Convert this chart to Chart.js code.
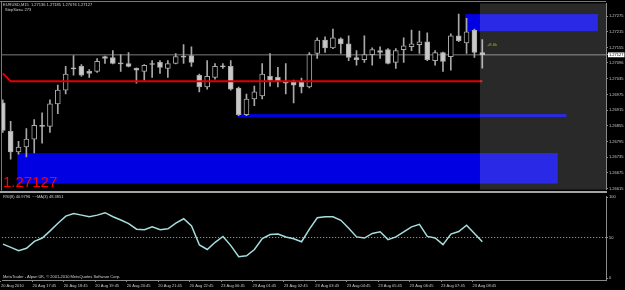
<!DOCTYPE html>
<html>
<head>
<meta charset="utf-8">
<script src="https://cdn.jsdelivr.net/npm/chart.js@4.4.0/dist/chart.umd.min.js"></script>
<style>
  html, body { margin: 0; padding: 0; background: #000; }
  #wrap { position: relative; width: 625px; height: 290px; overflow: hidden; background: #000; }
  canvas { position: absolute; left: 0; }
  #price { top: 0; }
  #rsi { top: 193px; }
</style>
</head>
<body>
<div id="wrap">
  <canvas id="price" width="625" height="193"></canvas>
  <canvas id="rsi" width="625" height="97"></canvas>
</div>
<script>
// EURUSD M15 candles
const opens  = [1.26943,1.26834,1.26755,1.26774,1.26804,1.26857,1.26853,1.26939,1.26992,1.27077,
                1.27083,1.27064,1.27064,1.27120,1.27117,1.27096,1.27094,1.27075,1.27064,1.27094,
                1.27098,1.27075,1.27094,1.27122,1.27124,1.27049,1.27004,1.27041,1.27085,1.27083,
                1.27000,1.26898,1.26958,1.26970,1.27045,1.27041,1.27026,1.27022,1.27022,1.27004,
                1.27132,1.27184,1.27154,1.27188,1.27169,1.27117,1.27109,1.27128,1.27143,1.27147,
                1.27098,1.27147,1.27158,1.27166,1.27177,1.27105,1.27136,1.27120,1.27200,1.27173,
                1.27222,1.27136];
const highs  = [1.26955,1.26872,1.26796,1.26845,1.26879,1.26905,1.26955,1.27011,1.27083,1.27124,
                1.27090,1.27071,1.27113,1.27122,1.27143,1.27128,1.27136,1.27077,1.27090,1.27105,
                1.27105,1.27105,1.27132,1.27166,1.27158,1.27053,1.27105,1.27094,1.27094,1.27105,
                1.27004,1.26977,1.27007,1.27094,1.27132,1.27079,1.27094,1.27030,1.27038,1.27136,
                1.27192,1.27196,1.27226,1.27192,1.27200,1.27143,1.27200,1.27154,1.27158,1.27151,
                1.27151,1.27192,1.27222,1.27218,1.27211,1.27143,1.27138,1.27207,1.27283,1.27267,
                1.27226,1.27185];
const lows   = [1.26830,1.26728,1.26747,1.26736,1.26751,1.26789,1.26830,1.26902,1.26977,1.27049,
                1.27045,1.27041,1.27060,1.27094,1.27092,1.27064,1.27081,1.27019,1.27030,1.27041,
                1.27056,1.27041,1.27092,1.27094,1.27083,1.26985,1.26996,1.27034,1.27075,1.26992,
                1.26894,1.26894,1.26932,1.26958,1.27007,1.27004,1.26977,1.26943,1.26981,1.27000,
                1.27113,1.27136,1.27151,1.27132,1.27105,1.27087,1.27098,1.27087,1.27113,1.27092,
                1.27075,1.27098,1.27143,1.27132,1.27105,1.27087,1.27064,1.27068,1.27177,1.27132,
                1.27117,1.27076];
const closes = [1.26838,1.26755,1.26774,1.26804,1.26857,1.26853,1.26939,1.26992,1.27053,1.27073,
                1.27049,1.27056,1.27102,1.27113,1.27094,1.27092,1.27083,1.27068,1.27087,1.27090,
                1.27079,1.27094,1.27120,1.27118,1.27098,1.27004,1.27045,1.27083,1.27081,1.26996,
                1.26898,1.26958,1.26985,1.27053,1.27030,1.27026,1.27019,1.27011,1.27004,1.27128,
                1.27184,1.27154,1.27192,1.27169,1.27117,1.27109,1.27128,1.27147,1.27136,1.27094,
                1.27143,1.27162,1.27169,1.27177,1.27109,1.27136,1.27102,1.27200,1.27181,1.27215,
                1.27136,1.27127];

// StepMA line (red)
const stepLine = [1.27056].concat(new Array(61).fill(1.27026));

// RSI(8) per bar
const rsiValues = [42,38,34,37,45.5,49.6,58.5,68,76.8,80,
                   78,76,78,81,76,72,67.5,60.6,59.8,63.4,
                   59.8,61,68,73.5,64.6,41,35.4,44.3,51.6,40.2,
                   26.4,27.6,35.4,49,54,54.5,51,48.8,45,60.6,
                   74.8,76,76,71.6,61.8,51,49.6,55.3,57.3,47.6,
                   51,57.3,63.4,66.6,51.6,49.6,41.5,54.5,57.7,65.5,
                   55.3,45];

// blue supply/demand zones (bar index / price)
const zoneStart  = [58.8, 29.9, 1.85];
const zoneEnd    = [75.7, 71.7, 70.6];
const zoneTop    = [1.27283, 1.26900, 1.26751];
const zoneBottom = [1.27218, 1.26889, 1.26634];
const shadeStart = 60.7;

const priceTicks = ['1.27275','1.27215','1.27155','1.27096','1.27035','1.26975',
                    '1.26915','1.26855','1.26795','1.26735','1.26675','1.26615'];
const rsiTicks = [0, 50, 100];
const timeTickBars = [0,4,8,12,16,20,24,28,32,36,40,44,48,52,56,60];
const timeLabels = ['20 Aug 2010','20 Aug 17:45','20 Aug 18:45','20 Aug 19:45','20 Aug 20:45',
                    '20 Aug 21:45','20 Aug 22:45','23 Aug 00:45','23 Aug 01:45','23 Aug 02:45',
                    '23 Aug 03:45','23 Aug 04:45','23 Aug 05:45','23 Aug 06:45','23 Aug 07:45',
                    '23 Aug 08:45'];

const bars = opens.map((_, i) => i);
const last = bars.length - 1;
const bidPrice = closes[last];
const xMin = -0.1, xMax = 76.74;

Chart.defaults.font.family = 'Liberation Sans';
Chart.defaults.font.size = 4;
Chart.defaults.color = '#c8c8c8';
Chart.defaults.animation = false;
Chart.defaults.plugins.legend.display = false;
Chart.defaults.plugins.tooltip.enabled = false;

const xScaleOpts = {
    type: 'linear', min: xMin, max: xMax, offset: false, bounds: 'data'
};

const pricePlugin = {
    id: 'pricePlugin',
    beforeDatasetsDraw(chart) {
        const {ctx, chartArea: a, scales: {x, y}} = chart;
        ctx.save();
        ctx.beginPath();
        ctx.rect(a.left, a.top, a.width, a.height);
        ctx.clip();
        ctx.fillStyle = '#0000e2';
        zoneStart.forEach((s, k) => {
            const x1 = x.getPixelForValue(s), x2 = x.getPixelForValue(zoneEnd[k]);
            const y1 = y.getPixelForValue(zoneTop[k]), y2 = y.getPixelForValue(zoneBottom[k]);
            ctx.fillRect(x1, y1, x2 - x1, y2 - y1);
        });
        ctx.restore();
    },
    afterDatasetsDraw(chart) {
        const {ctx, chartArea: a, scales: {x}} = chart;
        const xs = x.getPixelForValue(shadeStart);
        ctx.save();
        ctx.fillStyle = 'rgba(255,255,255,0.16)';
        ctx.fillRect(xs, a.top, a.right - xs, a.bottom - a.top);
        ctx.restore();
    },
    afterDraw(chart) {
        const {ctx, chartArea: a} = chart;
        ctx.save();
        // frame
        ctx.fillStyle = '#7a7a7a';
        ctx.fillRect(0, 1, a.right, 1);
        ctx.fillRect(1, 1, 1, a.bottom);
        ctx.fillStyle = '#a4a4a4';
        ctx.fillRect(0, 191, a.right + 1, 2);
        // texts
        ctx.font = '4px "Liberation Sans"';
        ctx.textBaseline = 'middle';
        ctx.fillStyle = '#d0d0d0';
        ctx.fillText('EURUSD,M15  ' + [opens[last], highs[last], lows[last], closes[last]].map(v => v.toFixed(5)).join(' '), 3, 5);
        ctx.fillText('StepSize= 273', 5, 10);
        ctx.fillStyle = '#b8b800';
        ctx.fillText('+8.6k', 487, 45);
        ctx.fillStyle = '#ff0000';
        ctx.textBaseline = 'alphabetic';
        ctx.font = '15px "Liberation Sans"';
        ctx.fillText(closes[last].toFixed(5), 3, 187);
        ctx.restore();
    }
};

new Chart(document.getElementById('price'), {
    type: 'bar',
    data: {
        datasets: [
            {
                type: 'line',
                data: [{x: xMin, y: bidPrice}, {x: xMax, y: bidPrice}],
                borderColor: '#7c7c7c', borderWidth: 1, pointRadius: 0, order: 3
            },
            {
                type: 'bar',
                data: bars.map(i => ({x: i, y: [lows[i], highs[i]]})),
                backgroundColor: '#a8a8a8', barThickness: 1, grouped: false, order: 2
            },
            {
                type: 'bar',
                data: bars.map(i => ({x: i, y: [opens[i], closes[i]]})),
                backgroundColor: bars.map(i => closes[i] < opens[i] ? '#c8c8c8' : '#000000'),
                borderColor: '#a8a8a8', borderWidth: 1, borderSkipped: false,
                barThickness: 5, grouped: false, order: 1
            },
            {
                type: 'line',
                data: stepLine.map((v, i) => ({x: i, y: v})),
                borderColor: '#e00000', borderWidth: 2, pointRadius: 0, order: 0
            }
        ]
    },
    options: {
        responsive: false,
        layout: { padding: { left: 2, top: 2, right: 0, bottom: 2 } },
        scales: {
            x: Object.assign({ display: false }, xScaleOpts),
            y: {
                type: 'linear', position: 'right', min: 1.26611, max: 1.27324,
                beginAtZero: false, bounds: 'data',
                afterFit: s => { s.width = 19; },
                afterBuildTicks: s => {
                    s.ticks = priceTicks.map(t => ({value: parseFloat(t)})).concat([{value: bidPrice}]);
                },
                border: { display: true, color: '#8a8a8a' },
                grid: { drawOnChartArea: false, tickLength: 2, color: '#8a8a8a' },
                ticks: {
                    autoSkip: false, padding: 1,
                    callback: v => v.toFixed(5),
                    color: c => c.tick && c.tick.value === bidPrice ? '#000' : '#c8c8c8',
                    showLabelBackdrop: c => !!(c.tick && c.tick.value === bidPrice),
                    backdropColor: '#ffffff',
                    backdropPadding: { x: 1, y: 0 }
                }
            }
        }
    },
    plugins: [pricePlugin]
});

const rsiPlugin = {
    id: 'rsiPlugin',
    afterDraw(chart) {
        const {ctx} = chart;
        ctx.save();
        ctx.font = '4px "Liberation Sans"';
        ctx.textBaseline = 'middle';
        ctx.fillStyle = '#d0d0d0';
        ctx.fillText('RSI(8) 40.9796  ~~MA(3) 48.3851', 3, 4);
        ctx.fillText('MetaTrader - Alpari UK, \u00a9 2001-2010 MetaQuotes Software Corp.', 3, 84);
        ctx.restore();
    }
};

new Chart(document.getElementById('rsi'), {
    type: 'line',
    data: {
        datasets: [{
            data: rsiValues.map((v, i) => ({x: i, y: v})),
            borderColor: '#a6dede', borderWidth: 1.5, pointRadius: 0, tension: 0
        }]
    },
    options: {
        responsive: false,
        layout: { padding: { left: 2, top: 2, right: 0, bottom: 0 } },
        scales: {
            x: Object.assign({
                position: 'bottom',
                afterFit: s => { s.height = 10; },
                afterBuildTicks: s => { s.ticks = timeTickBars.map(b => ({value: b - 0.25})); },
                border: { display: true, color: '#8a8a8a' },
                grid: { drawOnChartArea: false, tickLength: 2, color: '#8a8a8a' },
                ticks: {
                    autoSkip: false, maxRotation: 0, minRotation: 0, align: 'start', padding: 1,
                    callback: (v, i) => timeLabels[i]
                }
            }, xScaleOpts),
            y: {
                type: 'linear', position: 'right', min: -2.4, max: 101.2, bounds: 'data',
                afterFit: s => { s.width = 19; },
                afterBuildTicks: s => { s.ticks = rsiTicks.map(v => ({value: v})); },
                border: { display: true, color: '#8a8a8a', dash: [1, 2] },
                grid: {
                    tickLength: 2, tickColor: '#8a8a8a',
                    color: c => c.tick && c.tick.value === 50 ? '#b0b0b0' : 'rgba(0,0,0,0)'
                },
                ticks: { autoSkip: false, padding: 1, callback: v => String(v) }
            }
        }
    },
    plugins: [rsiPlugin]
});
</script>
</body>
</html>
